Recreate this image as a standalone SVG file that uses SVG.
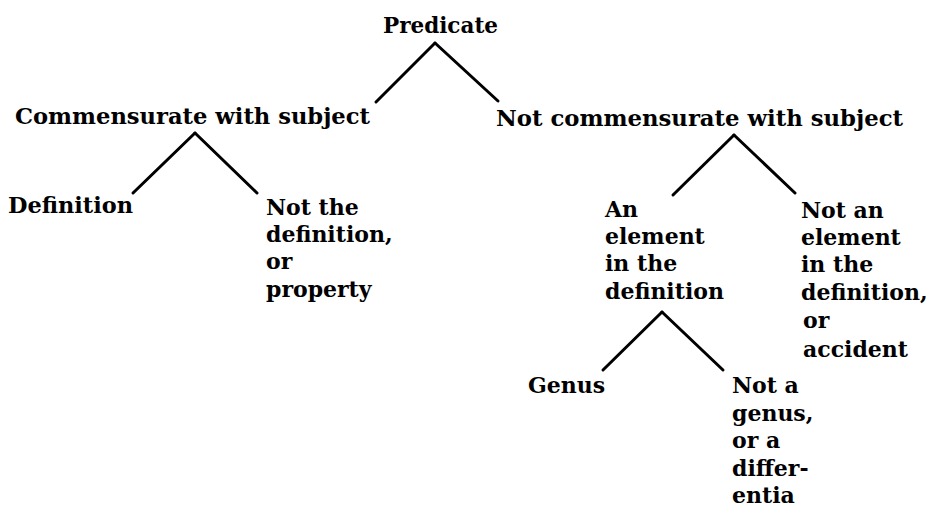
<svg xmlns="http://www.w3.org/2000/svg" width="931" height="507" viewBox="0 0 931 507">
<style>
text{font-family:"DejaVu Serif","Liberation Serif",serif;font-weight:bold;font-size:22px;fill:#000}
.c line{stroke:#000;stroke-width:3;stroke-linecap:round}
</style>
<rect width="931" height="507" fill="#fff"/>
<g class="c" id="connectors">
<line x1="435" y1="43" x2="376" y2="102"/>
<line x1="435" y1="43" x2="498" y2="101"/>
<line x1="195" y1="133" x2="133" y2="193"/>
<line x1="195" y1="133" x2="257" y2="193"/>
<line x1="734" y1="135" x2="673" y2="195"/>
<line x1="734" y1="135" x2="795" y2="193"/>
<line x1="662" y1="312" x2="603" y2="370"/>
<line x1="662" y1="312" x2="723" y2="370"/>
</g>
<g id="predicate"><text x="383" y="33" textLength="115" lengthAdjust="spacingAndGlyphs">Predicate</text></g>
<g id="commensurate"><text x="15" y="124" textLength="355" lengthAdjust="spacingAndGlyphs">Commensurate with subject</text></g>
<g id="not-commensurate"><text x="496" y="126" textLength="407" lengthAdjust="spacingAndGlyphs">Not commensurate with subject</text></g>
<g id="definition"><text x="8" y="213" textLength="125" lengthAdjust="spacingAndGlyphs">Definition</text></g>
<g id="property">
<text x="266" y="215">Not the</text>
<text x="266" y="242">definition,</text>
<text x="266" y="269">or</text>
<text x="266" y="297">property</text>
</g>
<g id="element">
<text x="605" y="217">An</text>
<text x="605" y="244">element</text>
<text x="605" y="271">in the</text>
<text x="605" y="299">definition</text>
</g>
<g id="accident">
<text x="801" y="218">Not an</text>
<text x="801" y="245">element</text>
<text x="801" y="272">in the</text>
<text x="801" y="300">definition,</text>
<text x="803" y="328">or</text>
<text x="803" y="357">accident</text>
</g>
<g id="genus"><text x="528" y="393">Genus</text></g>
<g id="differentia">
<text x="732" y="393">Not a</text>
<text x="732" y="421">genus,</text>
<text x="732" y="448">or a</text>
<text x="732" y="476">differ-</text>
<text x="732" y="503">entia</text>
</g>
</svg>
